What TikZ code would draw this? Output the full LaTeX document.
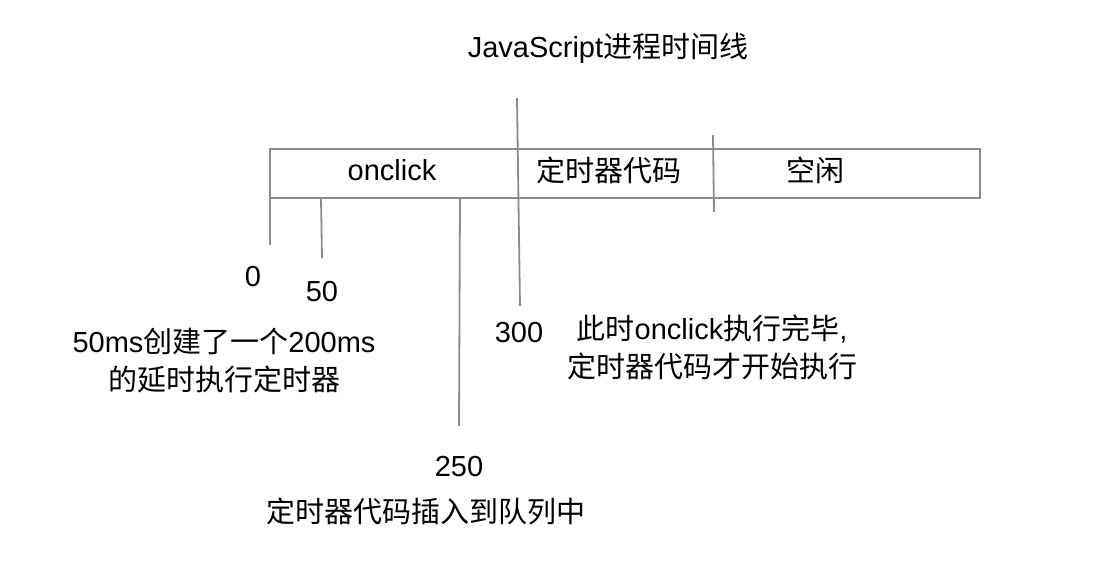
\documentclass[tikz,border=0pt]{standalone}
\usepackage{fontspec}
\setmainfont{Liberation Sans}
\newfontfamily\cjk{Noto Sans CJK SC}
\usetikzlibrary{positioning}
\definecolor{tlgrey}{HTML}{8C8C8C}
\newcommand{\zh}[1]{{\cjk #1}}

\begin{document}
\begin{tikzpicture}[x=1pt,y=-1pt,
  tl/.style={draw=tlgrey,line width=1.8pt},
  lbl/.style={font=\fontsize{29}{38}\selectfont,inner sep=0pt,align=center}]
\useasboundingbox (0,0) rectangle (1120,582);
% process bar
\draw[tl] (270,149) rectangle (980,198);
\coordinate (t0) at (270,198);
\coordinate (t50) at (321,198);
\coordinate (t250) at (460,198);
\coordinate (t300top) at (517,98);
\coordinate (idletop) at (713,135);
\draw[tl] (t0) -- ++(0,47);
\draw[tl] (t50) -- (322,258);
\draw[tl] (t250) -- (459,426);
\draw[tl] (t300top) -- (520,306);
\draw[tl] (idletop) -- (714,212);
% labels
\node[lbl] (title) at (608,48) {JavaScript\zh{进程时间线}};
\node[lbl] (onclick) at (392,170) {onclick};
\node[lbl] (timer) at (609,170) {\zh{定时器代码}};
\node[lbl] (idle) at (815,170) {\zh{空闲}};
\node[lbl] (l0) at (253,277) {0};
\node[lbl] (l50) at (322,292) {50};
\node[lbl] (create) at (224,361) {50ms\zh{创建了一个}200ms\\\zh{的延时执行定时器}};
\node[lbl] (l300) at (519,333) {300};
\node[lbl] (done) at (712,347) {\zh{此时}onclick\zh{执行完毕},\\\zh{定时器代码才开始执行}};
\node[lbl] (l250) at (459,467) {250};
\node[lbl] (queue) at (426,511) {\zh{定时器代码插入到队列中}};
\end{tikzpicture}
\end{document}
